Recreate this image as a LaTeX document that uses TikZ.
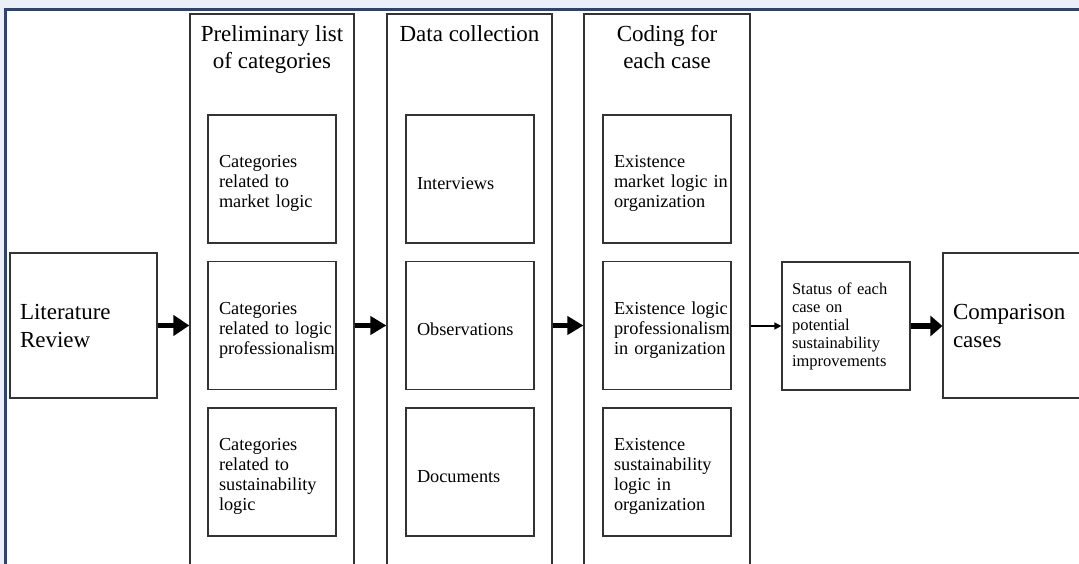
\documentclass[tikz,border=0pt]{standalone}
\usepackage{fontspec}
\setmainfont{Liberation Serif}
\usetikzlibrary{arrows.meta,calc}
\definecolor{bgblue}{HTML}{EAEFF8}
\definecolor{framenavy}{HTML}{2B4473}
\definecolor{linegray}{HTML}{333333}
\hyphenpenalty=10000\relax
\exhyphenpenalty=10000\relax
\hbadness=10000\relax
\hfuzz=30pt\relax
\begin{document}
\begin{tikzpicture}[x=1pt,y=-1pt,
  colbox/.style={draw=linegray, line width=1.2pt, rectangle, inner sep=0pt, fill=white,
    minimum height=586pt},
  heading/.style={inner sep=0pt, align=center, anchor=north,
    font=\fontsize{23}{27}\selectfont},
  innerbox/.style={draw=linegray, line width=1.2pt, rectangle, inner sep=0pt, fill=white,
    minimum width=128pt, minimum height=128pt, text width=106pt, align=left,
    font=\fontsize{18.3}{20}\selectfont, execute at begin node={\rule{0pt}{21pt}}},
  onelinebox/.style={innerbox, execute at begin node={\rule{0pt}{14pt}}},
  bigbox/.style={draw=linegray, line width=1.2pt, rectangle, inner sep=0pt, fill=white,
    minimum width=147pt, minimum height=145pt, text width=127pt, align=left,
    font=\fontsize{23}{28}\selectfont},
  statusbox/.style={draw=linegray, line width=1.2pt, rectangle, inner sep=0pt, fill=white,
    minimum width=128pt, minimum height=128pt, text width=108pt, align=left,
    font=\fontsize{16.5}{18}\selectfont},
  bigarrow/.style={line width=5pt, -{Triangle[length=16pt,width=20pt]}},
  midarrow/.style={line width=5pt, -{Triangle[length=16pt,width=18pt]}},
  endarrow/.style={line width=6pt, -{Triangle[length=12pt,width=20pt]}},
  thinarrow/.style={line width=1.3pt, -{Triangle[length=7pt,width=7pt]}}
]
\useasboundingbox (0,0) rectangle (1079,564);
\clip (0,0) rectangle (1079,564);
% background and frame
\fill[bgblue] (0,0) rectangle (1079,564);
\fill[white] (6,9.5) rectangle (1090,580);
\draw[framenavy, line width=3pt] (5.7,580) -- (5.7,9.5) -- (1090,9.5);

% columns
\node[colbox, minimum width=164pt] (col1) at (272,307) {};
\node[colbox, minimum width=165pt] (col2) at (469.5,307) {};
\node[colbox, minimum width=166pt] (col3) at (667,307) {};

\node[heading] (h1) at (272,25) {Preliminary list\\of categories};
\node[heading] (h2) at (469.5,25) {Data collection};
\node[heading] (h3) at (667,25) {Coding for\\each case};

% column 1
\node[innerbox] (p1) at (272,179) {Categories\\related~to\\market~logic};
\node[innerbox] (p2) at (272,325.5) {Categories\\related~to~logic\\professionalism};
\node[innerbox] (p3) at (272,472) {Categories\\related~to\\sustainability\\logic};

% column 2
\node[onelinebox] (d1) at (470,179) {Interviews};
\node[onelinebox] (d2) at (470,325.5) {Observations};
\node[onelinebox] (d3) at (470,472) {Documents};

% column 3
\node[innerbox] (c1) at (667,179) {Existence\\market~logic~in\\organization};
\node[innerbox] (c2) at (667,325.5) {Existence~logic\\professionalism\\in~organization};
\node[innerbox] (c3) at (667,472) {Existence\\sustainability\\logic~in\\organization};

% side boxes
\node[bigbox] (lit) at (83.5,325.5) {Literature\\Review};
\node[statusbox] (status) at (846,326) {Status~of~each\\case~on\\potential\\sustainability\\improvements};
\node[bigbox] (comp) at (1016.5,325.5) {Comparison\\cases};

% connectors
\draw[bigarrow] (lit.east) -- (lit.east -| col1.west);
\draw[midarrow] (col1.east |- p2.center) -- (col2.west |- p2.center);
\draw[midarrow] (col2.east |- d2.center) -- (col3.west |- d2.center);
\draw[thinarrow] (col3.east |- status.west) -- (status.west);
\draw[endarrow] (status.east) -- (status.east -| comp.west);
\end{tikzpicture}
\end{document}
